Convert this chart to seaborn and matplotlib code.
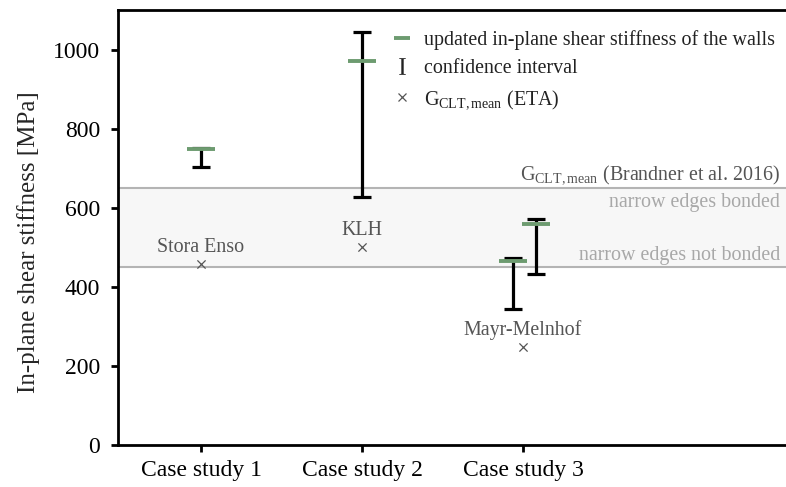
import matplotlib
matplotlib.use("Agg")
import matplotlib.pyplot as plt
import matplotlib.transforms as mtransforms
from matplotlib.lines import Line2D
import seaborn as sns
import pandas as pd
import numpy as np

# ---- data ----
categories = ["Case study 1", "Case study 2", "Case study 3"]
wall_case = [0, 1, 2, 2]
wall_offset = [0.0, 0.0, -0.065, 0.08]
updated_stiffness = [749, 970, 466, 559]
ci_lower = [704, 626, 345, 433]
ci_upper = [750, 1045, 473, 571]
eta_case = [0, 1, 2]
eta_values = [457, 500, 248]
eta_labels = ["Stora Enso", "KLH", "Mayr-Melnhof"]
brandner_bonded = 650
brandner_not_bonded = 450

sns.set_theme(style="ticks")
plt.rcParams['font.family'] = ['Liberation Serif', 'DejaVu Serif']
plt.rcParams['mathtext.fontset'] = 'custom'
plt.rcParams['mathtext.rm'] = 'Liberation Serif'
plt.rcParams['mathtext.it'] = 'Liberation Serif:italic'
plt.rcParams['mathtext.bf'] = 'Liberation Serif:bold'

FS = 14.4
TICK_FS = 17
green = '#6d9b70'
gray_dark = '#555555'
gray_light = '#a8a8a8'

fig = plt.figure(figsize=(7.86, 4.87), dpi=100)
ax = fig.add_axes([118/786, 1-445/487, 1-118/786, (445-10)/487])

walls = pd.DataFrame({
    "x": np.array(wall_case) + np.array(wall_offset),
    "y": updated_stiffness,
    "lo": ci_lower,
    "hi": ci_upper,
})
eta = pd.DataFrame({"x": eta_case, "y": eta_values, "label": eta_labels})

# Brandner band
ax.axhspan(brandner_not_bonded, brandner_bonded, color='#f7f7f7', zorder=0, lw=0)
ax.axhline(brandner_bonded, color='#b4b4b4', lw=1.5, zorder=1)
ax.axhline(brandner_not_bonded, color='#b4b4b4', lw=1.5, zorder=1)

# confidence intervals
ax.errorbar(walls["x"], walls["y"],
            yerr=[walls["y"] - walls["lo"], walls["hi"] - walls["y"]],
            fmt='none', ecolor='black', elinewidth=2.3, capsize=6.5,
            capthick=2.3, zorder=3)

# updated stiffness
sns.scatterplot(data=walls, x="x", y="y", marker='_', s=380, color=green,
                linewidth=2.8, ax=ax, zorder=4, legend=False)

# ETA values
sns.scatterplot(data=eta, x="x", y="y", marker='x', s=35, color=gray_dark,
                linewidth=0.9, ax=ax, zorder=4, legend=False)
for _, r in eta.iterrows():
    ax.annotate(r["label"], (r["x"], r["y"]), xytext=(0, 12),
                textcoords='offset points', ha='center', va='center',
                fontsize=FS, color=gray_dark)

# right-side labels
trans = mtransforms.blended_transform_factory(ax.transAxes, ax.transData)
ax.text(0.991, brandner_bonded + 5, r"$\mathrm{G}_{\mathrm{CLT,mean}}$ (Brandner et al. 2016)",
        transform=trans, ha='right', va='bottom', fontsize=FS, color=gray_dark)
ax.text(0.991, 614, "narrow edges bonded", transform=trans, ha='right',
        va='center', fontsize=FS, color=gray_light)
ax.text(0.991, 478, "narrow edges not bonded", transform=trans, ha='right',
        va='center', fontsize=FS, color=gray_light)

ax.set_xlim(-0.516, 3.634)
ax.set_ylim(0, 1100)
ax.set_xticks(range(len(categories)))
ax.set_xticklabels(categories)
ax.set_yticks([0, 200, 400, 600, 800, 1000])
ax.set_xlabel("")
ax.set_ylabel("In-plane shear stiffness [MPa]", fontsize=18)
ax.yaxis.set_label_coords((40 - 118) / 668, (445 - 242) / 435)
ax.tick_params(axis='y', labelsize=TICK_FS, width=2, length=5, color='black',
               labelcolor='black', pad=8)
ax.tick_params(axis='x', labelsize=TICK_FS, width=2, length=5, color='black',
               labelcolor='black', pad=6)
for s in ['left', 'bottom', 'top']:
    ax.spines[s].set_linewidth(2)
    ax.spines[s].set_color('black')
ax.spines['right'].set_visible(False)

handles = [
    Line2D([], [], color=green, marker='_', linestyle='none', markersize=11,
           markeredgewidth=2.8),
    Line2D([], [], color='#222222', marker=r'$\mathrm{I}$', linestyle='none',
           markersize=12, markeredgewidth=0),
    Line2D([], [], color=gray_dark, marker='x', linestyle='none', markersize=5.5,
           markeredgewidth=0.9),
]
labels = ["updated in-plane shear stiffness of the walls", "confidence interval",
          r"$\mathrm{G}_{\mathrm{CLT,mean}}$ (ETA)"]
leg = ax.legend(handles, labels, loc='upper left', bbox_to_anchor=(392/786, 1-30/487),
                bbox_transform=fig.transFigure, frameon=False, fontsize=FS,
                handlelength=1.0, handletextpad=0.6, labelspacing=0.47, borderpad=0,
                borderaxespad=0)
for t in leg.get_texts():
    t.set_color('#222222')

fig.savefig("out.png", dpi=100)
